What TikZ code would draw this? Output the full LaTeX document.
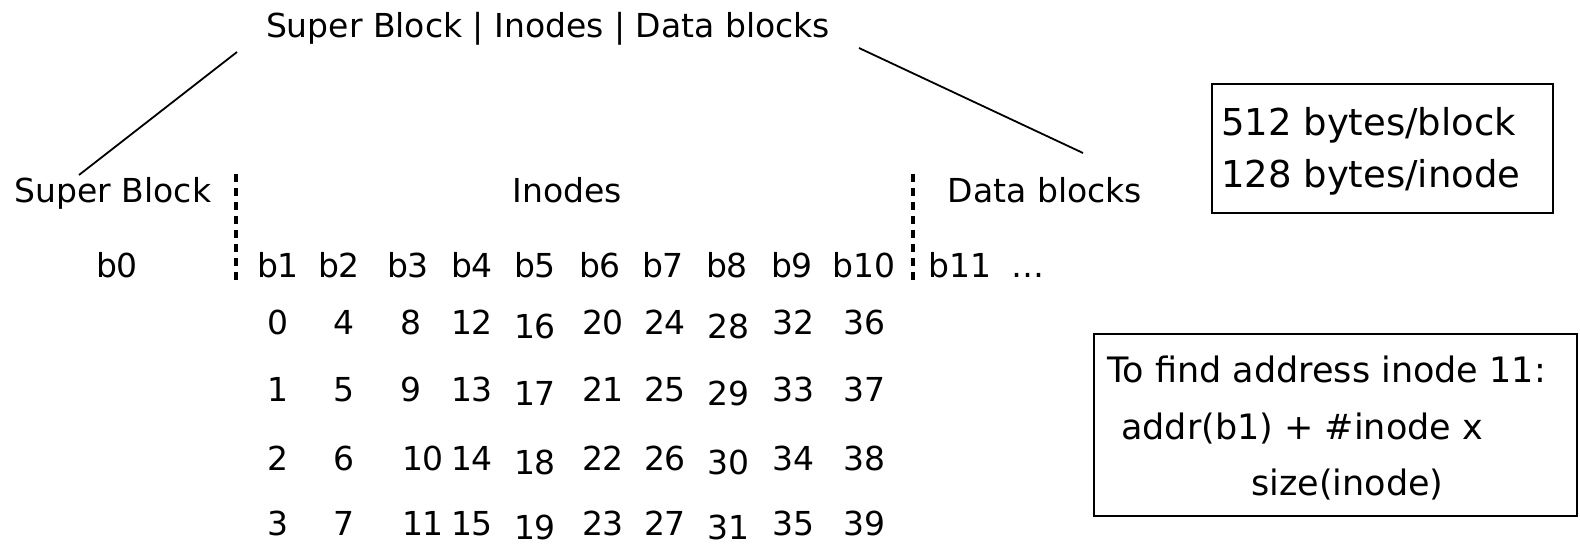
\documentclass[tikz,border=0pt]{standalone}
\usepackage{fontspec}
\setmainfont{DejaVu Sans}
\begin{document}
\begin{tikzpicture}[x=1pt,y=-1pt,
  lbl/.style={anchor=base,inner sep=0pt,font=\fontsize{33}{40}\selectfont},
  boxtxt/.style={anchor=base west,inner sep=0pt},
  frame/.style={draw,line width=1.7pt},
  conn/.style={line width=1.8pt},
  sep/.style={line width=3.6pt,dash pattern=on 8pt off 6pt}]
\useasboundingbox (0,0) rectangle (1580,546);
% title and section labels
\node[lbl] (title) at (548,37) {Super Block | Inodes | Data blocks};
\node[lbl] (sb) at (113,202) {Super Block};
\node[lbl] (ino) at (567,202) {Inodes};
\node[lbl] (db) at (1045,202) {Data blocks};
\coordinate (tL) at (237,52);
\coordinate (sbT) at (79,175);
\coordinate (tR) at (859,48);
\coordinate (dbT) at (1083,153);
\draw[conn] (tL) -- (sbT);
\draw[conn] (tR) -- (dbT);
% separators
\coordinate (s1a) at (236,174); \coordinate (s1b) at (236,282);
\coordinate (s2a) at (913,174); \coordinate (s2b) at (913,282);
\draw[sep] (s1a) -- (s1b);
\draw[sep] (s2a) -- (s2b);
% block row
\node[lbl] (b0) at (117,277) {b0};
\foreach \i/\x in {1/278,2/339,3/408,4/472,5/535,6/600,7/663,8/727,9/792,10/864}{
  \node[lbl] (b\i) at (\x,277) {b\i};
}
\node[lbl] (b11) at (960,277) {b11};
\node[lbl] (dots) at (1028,277) {…};
% inode numbers
\foreach \r/\y in {0/334,1/401,2/470,3/535}{
  \foreach \c/\x/\dy in {0/278/0,1/344/0,2/411/0,3/472/0,4/535/4,5/603/0,6/665/0,7/728/4,8/793/0,9/864/0}{
    \pgfmathtruncatemacro{\n}{4*\c+\r}
    \pgfmathsetmacro{\xx}{(\r>1 && \c==2) ? 423 : \x}
    \node[lbl] (n\n) at (\xx,\y+\dy) {\n};
  }
}
% info box 1
\node[frame,minimum width=341pt,minimum height=129pt,anchor=north west,inner sep=0pt] (box1) at (1211,83) {};
\node[boxtxt,font=\fontsize{37}{44}\selectfont] (bpb) at (1221,135) {512 bytes/block};
\node[boxtxt,font=\fontsize{37}{44}\selectfont] (bpi) at (1221,187) {128 bytes/inode};
% info box 2
\node[frame,minimum width=483pt,minimum height=182pt,anchor=north west,inner sep=0pt] (box2) at (1093,333) {};
\node[boxtxt,font=\fontsize{35}{42}\selectfont] (l1) at (1107,382) {To find address inode 11:};
\node[boxtxt,font=\fontsize{35}{42}\selectfont] (l2) at (1121,439) {addr(b1) + \#inode x};
\node[boxtxt,font=\fontsize{35}{42}\selectfont] (l3) at (1251,495) {size(inode)};
\end{tikzpicture}
\end{document}
